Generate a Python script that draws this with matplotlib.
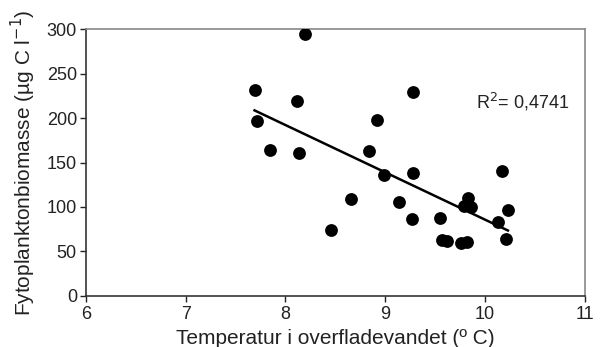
import numpy as np
import matplotlib
matplotlib.use("Agg")
import matplotlib.pyplot as plt

plt.rcParams["font.family"] = ["Liberation Sans", "DejaVu Sans"]

# Surface water temperature (°C) and phytoplankton biomass (µg C/l)
temperature = [7.69, 7.71, 7.84, 8.12, 8.14, 8.20, 8.46, 8.66, 8.84, 8.92,
               8.99, 9.14, 9.27, 9.28, 9.28, 9.55, 9.57, 9.62, 9.76, 9.82,
               9.79, 9.83, 9.86, 10.13, 10.17, 10.21, 10.23]
biomass = [232, 197, 164, 219, 161, 295, 74, 109, 163, 198,
           136, 106, 86, 138, 230, 87, 63, 62, 59, 61,
           101, 110, 100, 83, 140, 64, 97]

x_ticks = [6, 7, 8, 9, 10, 11]
y_ticks = [0, 50, 100, 150, 200, 250, 300]
r2_label = "R$^2$= 0,4741"

fig = plt.figure(figsize=(6.01, 3.47), dpi=100)
ax = fig.add_axes([0.143, 0.148, 0.830, 0.767])

ax.scatter(temperature, biomass, s=85, color="black", zorder=3, linewidths=0)

# least-squares trend line across the observed temperature range
slope, intercept = np.polyfit(temperature, biomass, 1)
xs = np.array([min(temperature), max(temperature)])
ax.plot(xs, slope * xs + intercept, color="black", lw=1.8, zorder=2)

ax.text(9.91, 218, r2_label, fontsize=13, va="center", ha="left", color="#222222")

ax.set_xlim(6, 11)
ax.set_ylim(0, 300)
ax.set_xticks(x_ticks)
ax.set_yticks(y_ticks)
ax.tick_params(direction="out", length=4.5, width=1, labelsize=13,
               colors="#222222")
ax.tick_params(axis="x", pad=3)
ax.tick_params(axis="y", pad=2)

for side in ("left", "bottom"):
    ax.spines[side].set_color("#333333")
    ax.spines[side].set_linewidth(1.2)
for side in ("top", "right"):
    ax.spines[side].set_color("#888888")
    ax.spines[side].set_linewidth(1.2)

ax.set_xlabel("Temperatur i overfladevandet (º C)", fontsize=15,
              color="#222222", labelpad=4.5)
ax.set_ylabel("Fytoplanktonbiomasse (µg C l$^{-1}$)", fontsize=15,
              color="#222222", labelpad=6)

fig.savefig("out.png", dpi=100, facecolor="white")
